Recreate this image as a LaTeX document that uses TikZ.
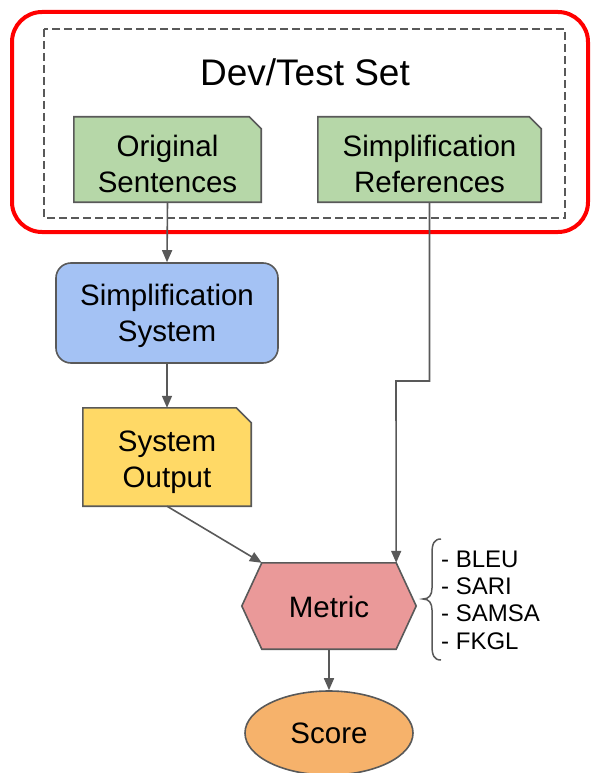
\documentclass[tikz,border=0pt]{standalone}
\usepackage{fontspec}
\setmainfont{Liberation Sans}
\usetikzlibrary{arrows.meta,calc,shapes.geometric}

\definecolor{edgegray}{HTML}{595959}
\definecolor{docgreen}{HTML}{B6D7A8}
\definecolor{sysblue}{HTML}{A4C2F4}
\definecolor{outyellow}{HTML}{FFD966}
\definecolor{metricpink}{HTML}{EA9999}
\definecolor{scoreorange}{HTML}{F6B26B}

\tikzset{
  outline/.style={draw=edgegray, line width=1.6pt},
  frame/.style={inner sep=0pt},
  boxtext/.style={align=center, inner sep=0pt, font=\fontsize{29.5}{36}\selectfont},
  flow/.style={draw=edgegray, line width=1.6pt, -{Triangle[length=12pt,width=10pt]}},
}

% document-like box with a clipped top-right corner
\newcommand\docbox[3]{% node name, fold size, fill colour
  \path[outline, fill=#3]
    (#1.south west) -- (#1.north west)
    -- ($(#1.north east)+(-#2,0)$) -- ($(#1.north east)+(0,#2)$)
    -- (#1.south east) -- cycle;}

\begin{document}
\begin{tikzpicture}[x=1pt, y=-1pt]
  \useasboundingbox (0,0) rectangle (592,773);

  % framed test set
  \draw[red, line width=4pt, rounded corners=30pt] (12,12) rectangle (588,232);
  \draw[edgegray, line width=1.2pt, dash pattern=on 8pt off 4pt] (44,29) rectangle (565,218);
  \node[inner sep=0pt, font=\fontsize{37}{40}\selectfont] (title) at (305,72) {Dev/Test Set};

  % source documents
  \node[frame, minimum width=187pt, minimum height=85pt] (orig) at (167.5,159.5) {};
  \docbox{orig}{12}{docgreen}
  \node[boxtext] (origtext) at ($(orig.center)+(0,4)$) {Original\\Sentences};

  \node[frame, minimum width=223pt, minimum height=85pt] (refs) at (429.5,159.5) {};
  \docbox{refs}{12}{docgreen}
  \node[boxtext] (refstext) at ($(refs.center)+(0,4)$) {Simplification\\References};

  % system
  \node[frame, outline, fill=sysblue, rounded corners=15pt,
        minimum width=222pt, minimum height=100pt] (sys) at (167,313) {};
  \node[boxtext] (systext) at ($(sys.center)+(0,3)$) {Simplification\\System};

  \node[frame, minimum width=168pt, minimum height=98pt] (sysout) at (167,457) {};
  \docbox{sysout}{15}{outyellow}
  \node[boxtext] (sysouttext) at ($(sysout.center)+(0,5)$) {System\\Output};

  % metric hexagon
  \node[frame, minimum width=134pt, minimum height=86pt] (metric) at (329,606) {};
  \path[outline, fill=metricpink]
    (metric.north west) -- (metric.north east) -- ($(metric.east)+(20,0)$)
    -- (metric.south east) -- (metric.south west) -- ($(metric.west)+(-20,0)$) -- cycle;
  \node[boxtext] (metrictext) at ($(metric.center)+(0,1)$) {Metric};

  \node[boxtext, ellipse, outline, fill=scoreorange,
        minimum width=168pt, minimum height=84pt] (score) at (329,733) {Score};

  % metric list with brace
  \node[anchor=west, align=left, inner sep=0pt, font=\fontsize{24}{27.4}\selectfont]
    (list) at (441,600) {- BLEU\\- SARI\\- SAMSA\\- FKGL};
  \draw[edgegray, line width=1.5pt]
    (441,539) .. controls (434,539) and (432,544) .. (432,553)
    -- (432,588) .. controls (432,595) and (429,599) .. (423,599)
    .. controls (429,599) and (432,603) .. (432,610)
    -- (432,646) .. controls (432,655) and (434,660) .. (441,660);

  % connectors
  \coordinate (jog) at (396,381);
  \draw[flow] (orig.south) -- (sys.north);
  \draw[flow] (sys.south) -- (sysout.north);
  \draw[flow] (sysout.south) -- (metric.north west);
  \draw[flow] (refs.south) |- (jog) -- (metric.north east);
  \draw[flow] (metric.south) -- (score.north);
\end{tikzpicture}
\end{document}
